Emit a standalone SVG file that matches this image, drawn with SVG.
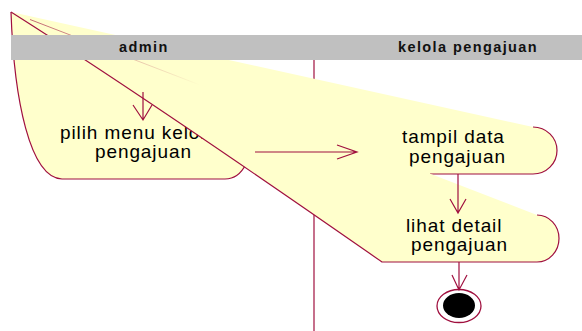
<svg xmlns="http://www.w3.org/2000/svg" width="582" height="331" viewBox="0 0 582 331">
<style>
.fill{fill:#FFFFCC;stroke:none}
.edge{fill:none;stroke:#A0103F;stroke-width:1.2}
.lbl{font-family:"Liberation Sans",Arial,sans-serif;font-size:19px;letter-spacing:0.9px;fill:#000}
.hdr{font-family:"Liberation Sans",Arial,sans-serif;font-size:14.5px;font-weight:bold;letter-spacing:1.4px;fill:#111}
.conn{fill:none;stroke:#A0103F;stroke-width:1.2}
</style>
<defs>
<linearGradient id="seam" gradientUnits="userSpaceOnUse" x1="30" y1="20" x2="200" y2="85">
<stop offset="0" stop-color="#A0103F" stop-opacity="0.8"/>
<stop offset="1" stop-color="#A0103F" stop-opacity="0"/>
</linearGradient>
</defs>
<rect width="582" height="331" fill="#fff"/>
<line x1="314" y1="60" x2="314" y2="331" class="conn"/>
<g id="node-pilih-menu">
<path class="fill" d="M11,12 C14,100 30,178 62,179 L225,179 C235,179 242,172 246,164 Z"/>
<path class="edge" d="M11,12 C14,100 30,178 62,179 L225,179 C235,179 242,172 246,164"/>
<text class="lbl" x="60" y="139">pilih menu kelola</text>
<text class="lbl" x="95" y="158">pengajuan</text>
</g>
<g id="node-tampil-data">
<path class="fill" d="M11,12 L533,127 A24,23.5 0 0 1 533,174 L432,174 L430,182 Z"/>
<path class="edge" d="M533,127 A24,23.5 0 0 1 533,174 L430,174"/>
<text class="lbl" x="402" y="143">tampil data</text>
<text class="lbl" x="409" y="163">pengajuan</text>
</g>
<g id="node-lihat-detail">
<path class="fill" d="M11,12 L537,215 A22,23.5 0 0 1 537,262 L382,262 C300,205 150,100 11,12 Z"/>
<path class="edge" d="M537,215 A22,23.5 0 0 1 537,262 L382,262 C300,205 150,100 11,12"/>
<line x1="30" y1="19.5" x2="200" y2="85" stroke="url(#seam)" stroke-width="0.8"/>
<text class="lbl" x="406" y="232">lihat detail</text>
<text class="lbl" x="411" y="251">pengajuan</text>
</g>
<g id="node-final">
<ellipse cx="459" cy="306" rx="22" ry="16.5" fill="#fff" stroke="#A0103F" stroke-width="1.3"/>
<ellipse cx="459" cy="305.5" rx="16" ry="12.5" fill="#000"/>
</g>
<g id="connectors">
<path class="conn" d="M143,92 V120 M133,105 L143,120 L152,105"/>
<path class="conn" d="M255,152 H357 M337,145 L357,152 L337,159"/>
<path class="conn" d="M458,174 V213 M450,199 L458,213 L466,199"/>
<path class="conn" d="M459,262 V290 M452,275 L459,290 L467,275"/>
</g>
<g id="lanes">
<rect x="11" y="35" width="571" height="25" fill="#C0C0C0"/>
<text class="hdr" x="119" y="52">admin</text>
<text class="hdr" x="398" y="52">kelola pengajuan</text>
</g>
</svg>
